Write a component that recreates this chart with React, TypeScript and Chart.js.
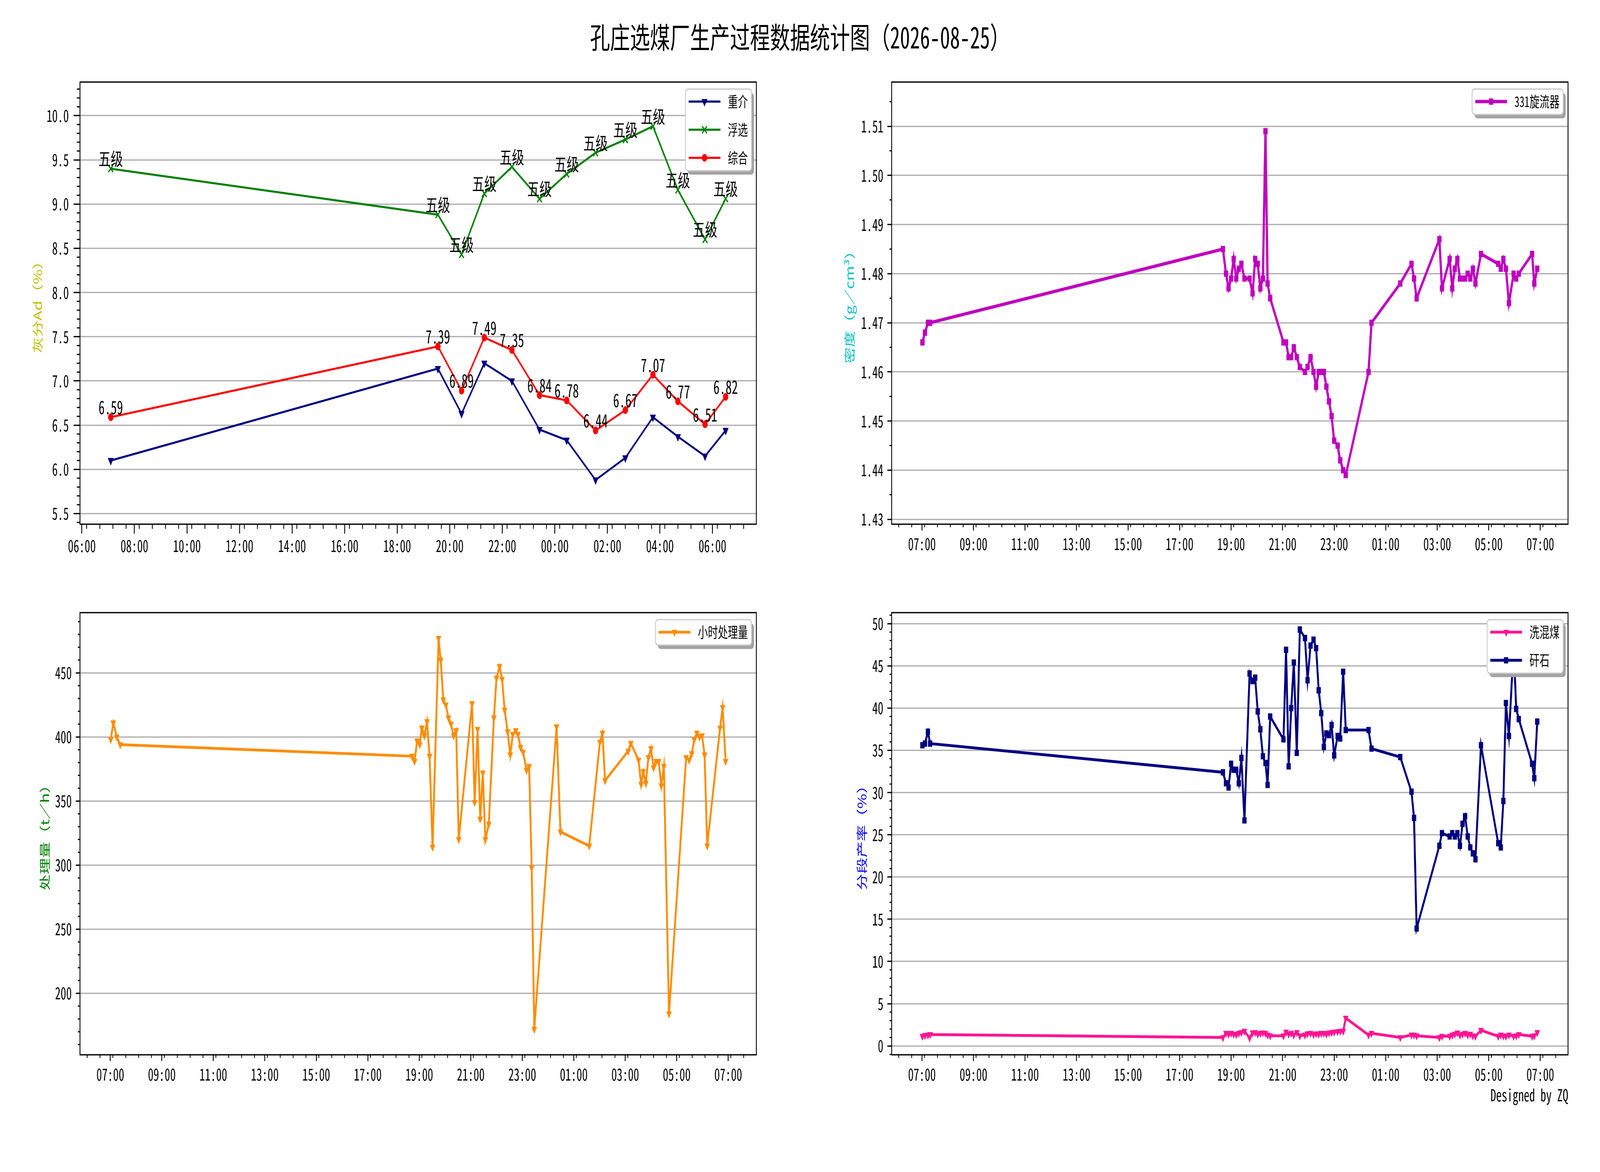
import { useEffect, useRef, useState } from 'react';
import Chart from 'chart.js/auto';
import { drawPoint } from 'chart.js/helpers';

const MONO = "'Noto Sans Mono CJK SC', 'Noto Sans CJK SC', sans-serif";
const SANS = "'Noto Sans CJK SC', sans-serif";

const FIG_W = 6000;
const FIG_H = 3000;

const TITLE = '孔庄选煤厂生产过程数据统计图（2026-08-25）';
const CREDIT = 'Designed by ZQ';

// ---- 灰分 (top left) ----
const ASH_TIMES = ['07:06', '19:33', '20:27', '21:19', '22:22', '23:25', '00:27', '01:33', '02:41', '03:44', '04:41', '05:43', '06:30'];
const ASH_DENSE = [6.1, 7.14, 6.63, 7.2, 7.0, 6.45, 6.33, 5.88, 6.13, 6.59, 6.37, 6.15, 6.44]; // 重介
const ASH_FLOAT = [9.4, 8.88, 8.43, 9.12, 9.42, 9.06, 9.34, 9.58, 9.73, 9.88, 9.16, 8.6, 9.06]; // 浮选
const ASH_TOTAL = [6.59, 7.39, 6.89, 7.49, 7.35, 6.84, 6.78, 6.44, 6.67, 7.07, 6.77, 6.51, 6.82]; // 综合
const ASH_FLOAT_GRADES = ['五级', '五级', '五级', '五级', '五级', '五级', '五级', '五级', '五级', '五级', '五级', '五级', '五级'];
const ASH_X_TICKS = ['06:00', '08:00', '10:00', '12:00', '14:00', '16:00', '18:00', '20:00', '22:00', '00:00', '02:00', '04:00', '06:00'];
const ASH_Y_TICKS = [5.5, 6.0, 6.5, 7.0, 7.5, 8.0, 8.5, 9.0, 9.5, 10.0];

// ---- 331旋流器密度 and 分段产率 share the same time stamps ----
const CYCLONE_TIMES = [
  '07:01', '07:07', '07:14', '07:19', '18:41', '18:48', '18:54', '19:00', '19:06', '19:12',
  '19:18', '19:24', '19:31', '19:43', '19:50', '19:56', '20:02', '20:08', '20:14', '20:20',
  '20:25', '20:31', '21:02', '21:08', '21:14', '21:20', '21:26', '21:33', '21:40', '21:52',
  '21:58', '22:05', '22:12', '22:18', '22:24', '22:30', '22:36', '22:42', '22:48', '22:54',
  '23:00', '23:08', '23:14', '23:21', '23:27', '00:20', '00:27', '01:34', '02:00', '02:06',
  '02:12', '03:05', '03:11', '03:29', '03:35', '03:41', '03:47', '03:53', '03:59', '04:05',
  '04:11', '04:17', '04:23', '04:29', '04:42', '05:22', '05:28', '05:34', '05:40', '05:47',
  '05:58', '06:04', '06:10', '06:41', '06:46', '06:53',
];
const CYCLONE_DENSITY = [
  1.466, 1.468, 1.47, 1.47, 1.485, 1.48, 1.477, 1.479, 1.483, 1.479,
  1.481, 1.482, 1.479, 1.479, 1.476, 1.483, 1.482, 1.477, 1.479, 1.509,
  1.478, 1.475, 1.466, 1.466, 1.463, 1.463, 1.465, 1.463, 1.461, 1.46,
  1.461, 1.463, 1.46, 1.457, 1.46, 1.46, 1.46, 1.457, 1.454, 1.451,
  1.446, 1.445, 1.442, 1.44, 1.439, 1.46, 1.47, 1.478, 1.482, 1.479,
  1.475, 1.487, 1.477, 1.483, 1.477, 1.481, 1.483, 1.479, 1.479, 1.479,
  1.48, 1.479, 1.481, 1.478, 1.484, 1.482, 1.481, 1.483, 1.481, 1.474,
  1.48, 1.479, 1.48, 1.484, 1.478, 1.481,
];
const MIDDLINGS_YIELD = [
  1.15, 1.25, 1.3, 1.35, 1.0, 1.5, 1.4, 1.5, 1.4, 1.35,
  1.5, 1.6, 1.75, 0.95, 1.55, 1.6, 1.4, 1.5, 1.55, 1.5,
  1.3, 1.2, 1.2, 1.65, 1.4, 1.5, 1.3, 1.6, 1.2, 1.3,
  1.45, 1.5, 1.35, 1.45, 1.4, 1.5, 1.5, 1.4, 1.55, 1.6,
  1.65, 1.7, 1.75, 1.75, 3.3, 1.3, 1.5, 1.0, 1.3, 1.3,
  1.2, 1.0, 1.15, 1.15, 1.3, 1.4, 1.55, 1.3, 1.4, 1.5,
  1.3, 1.4, 1.2, 1.15, 1.85, 1.15, 1.3, 1.2, 1.15, 1.3,
  1.15, 1.2, 1.35, 1.15, 1.2, 1.6,
]; // 洗混煤
const GANGUE_YIELD = [
  35.6, 35.8, 37.2, 35.8, 32.4, 31.1, 30.6, 33.4, 32.7, 32.7,
  31.1, 34.1, 26.7, 44.1, 43.2, 43.6, 39.6, 37.5, 34.3, 33.5,
  30.9, 39.0, 36.3, 46.9, 33.1, 40.0, 45.4, 34.7, 49.3, 48.3,
  43.3, 47.4, 48.1, 47.1, 42.1, 39.4, 35.4, 37.0, 36.8, 38.0,
  34.4, 36.7, 36.4, 44.3, 37.4, 37.4, 35.2, 34.2, 30.1, 27.0,
  13.9, 23.7, 25.2, 24.8, 25.2, 24.8, 25.2, 23.7, 26.3, 27.2,
  24.8, 23.5, 22.8, 22.1, 35.6, 24.0, 23.5, 29.0, 40.6, 36.7,
  47.3, 39.9, 38.7, 33.4, 31.7, 38.4,
]; // 矸石

// ---- 小时处理量 (bottom left) ----
const FEED_TIMES = [
  '07:01', '07:07', '07:15', '07:23', '18:43', '18:49', '18:55', '19:01', '19:06', '19:12',
  '19:18', '19:24', '19:31', '19:45', '19:50', '19:56', '20:02', '20:08', '20:14', '20:20',
  '20:26', '20:32', '21:03', '21:09', '21:16', '21:22', '21:28', '21:34', '21:42', '21:54',
  '22:00', '22:07', '22:13', '22:19', '22:26', '22:32', '22:38', '22:45', '22:50', '22:56',
  '23:02', '23:10', '23:16', '23:22', '23:28', '00:20', '00:29', '01:36', '02:01', '02:07',
  '02:13', '03:07', '03:13', '03:31', '03:37', '03:42', '03:48', '03:54', '04:00', '04:06',
  '04:12', '04:18', '04:24', '04:30', '04:42', '05:22', '05:29', '05:35', '05:41', '05:47',
  '05:53', '05:59', '06:05', '06:11', '06:41', '06:47', '06:54',
];
const FEED_RATE = [
  398, 411, 400, 394, 385, 381, 397, 394, 407, 401,
  412, 385, 314, 477, 460, 429, 425, 415, 410, 401,
  405, 320, 426, 349, 406, 336, 372, 320, 332, 415,
  446, 455, 445, 421, 404, 386, 402, 405, 402, 392,
  388, 374, 377, 298, 172, 408, 326, 315, 396, 403,
  366, 389, 395, 382, 363, 373, 364, 384, 391, 376,
  381, 381, 362, 377, 184, 384, 382, 387, 398, 403,
  400, 401, 386, 315, 407, 423, 381,
];

const SHIFT_X_TICKS = ['07:00', '09:00', '11:00', '13:00', '15:00', '17:00', '19:00', '21:00', '23:00', '01:00', '03:00', '05:00', '07:00'];
const DENSITY_Y_TICKS = [1.43, 1.44, 1.45, 1.46, 1.47, 1.48, 1.49, 1.5, 1.51];
const FEED_Y_TICKS = [200, 250, 300, 350, 400, 450];
const YIELD_Y_TICKS = [0, 5, 10, 15, 20, 25, 30, 35, 40, 45, 50];

function toHours(list: string[]): number[] {
  let day = 0;
  let prev = -Infinity;
  return list.map((s) => {
    const [h, m] = s.split(':').map(Number);
    let v = h + m / 60 + day * 24;
    if (v < prev) {
      day += 1;
      v += 24;
    }
    prev = v;
    return v;
  });
}

function clock(v: number): string {
  const m = ((Math.round(v * 60) % 1440) + 1440) % 1440;
  return `${String(Math.floor(m / 60)).padStart(2, '0')}:${String(m % 60).padStart(2, '0')}`;
}

type Series = {
  label: string;
  times: string[];
  values: number[];
  color: string;
  lineWidth: number;
  pointStyle: string;
  rotation: number;
  radius: number;
  borderWidth: number;
};

type PanelSpec = {
  canvas: { left: number; top: number; width: number; height: number };
  area: { left: number; top: number; right: number; bottom: number };
  series: Series[];
  xTicks: string[];
  yTicks: number[];
  yDecimals: number;
  yPad: number;
  yMinor: number;
  xMinorPhase: number;
  yTitle: string;
  yTitleColor: string;
  yTitleX: number;
  tickLen: number;
  minorLen: number;
  xLabelPad: number;
  yLabelPad: number;
  pointLabels?: { series: number; texts: string[] }[];
};

const TOP_ROW = { top: 210, bottom: 1341.8 };
const BOTTOM_ROW = { top: 1568.2, bottom: 2700 };
const LEFT_COL = { left: 300, right: 2836.4 };
const RIGHT_COL = { left: 3343.6, right: 5880 };

const PANELS: PanelSpec[] = [
  {
    canvas: { left: 0, top: 150, width: 3000, height: 1350 },
    area: { ...LEFT_COL, ...TOP_ROW },
    series: [
      { label: '重介', times: ASH_TIMES, values: ASH_DENSE, color: '#000080', lineWidth: 5.3, pointStyle: 'triangle', rotation: 180, radius: 11, borderWidth: 2 },
      { label: '浮选', times: ASH_TIMES, values: ASH_FLOAT, color: '#008000', lineWidth: 5.3, pointStyle: 'crossRot', rotation: 0, radius: 12.5, borderWidth: 4 },
      { label: '综合', times: ASH_TIMES, values: ASH_TOTAL, color: '#ff0000', lineWidth: 5.3, pointStyle: 'circle', rotation: 0, radius: 9, borderWidth: 2 },
    ],
    xTicks: ASH_X_TICKS,
    yTicks: ASH_Y_TICKS,
    yDecimals: 1,
    yPad: 0.5,
    yMinor: 0.1,
    xMinorPhase: 11 / 60,
    yTitle: '灰分Ad（%）',
    yTitleColor: '#bfbf00',
    yTitleX: 141,
    tickLen: 24,
    minorLen: 12,
    xLabelPad: 6,
    yLabelPad: 18,
    pointLabels: [
      { series: 1, texts: ASH_FLOAT_GRADES },
      { series: 2, texts: ASH_TOTAL.map((v) => v.toFixed(2)) },
    ],
  },
  {
    canvas: { left: 3000, top: 150, width: 3000, height: 1350 },
    area: { ...RIGHT_COL, ...TOP_ROW },
    series: [
      { label: '331旋流器', times: CYCLONE_TIMES, values: CYCLONE_DENSITY, color: '#bf00bf', lineWidth: 8.3, pointStyle: 'rect', rotation: 0, radius: 10, borderWidth: 2 },
    ],
    xTicks: SHIFT_X_TICKS,
    yTicks: DENSITY_Y_TICKS,
    yDecimals: 2,
    yPad: 0.01,
    yMinor: 0.005,
    xMinorPhase: 6 / 60,
    yTitle: '密度（g／cm³）',
    yTitleColor: '#00bfbf',
    yTitleX: 3186,
    tickLen: 16,
    minorLen: 8,
    xLabelPad: 9,
    yLabelPad: 15,
  },
  {
    canvas: { left: 0, top: 1500, width: 3000, height: 1500 },
    area: { ...LEFT_COL, ...BOTTOM_ROW },
    series: [
      { label: '小时处理量', times: FEED_TIMES, values: FEED_RATE, color: '#ff8c00', lineWidth: 7, pointStyle: 'triangle', rotation: 180, radius: 10, borderWidth: 2 },
    ],
    xTicks: SHIFT_X_TICKS,
    yTicks: FEED_Y_TICKS,
    yDecimals: 0,
    yPad: 20,
    yMinor: 10,
    xMinorPhase: 6 / 60,
    yTitle: '处理量（t／h）',
    yTitleColor: '#008000',
    yTitleX: 168,
    tickLen: 16,
    minorLen: 8,
    xLabelPad: 9,
    yLabelPad: 15,
  },
  {
    canvas: { left: 3000, top: 1500, width: 3000, height: 1500 },
    area: { ...RIGHT_COL, ...BOTTOM_ROW },
    series: [
      { label: '洗混煤', times: CYCLONE_TIMES, values: MIDDLINGS_YIELD, color: '#ff1493', lineWidth: 7.3, pointStyle: 'triangle', rotation: 180, radius: 10, borderWidth: 2 },
      { label: '矸石', times: CYCLONE_TIMES, values: GANGUE_YIELD, color: '#000080', lineWidth: 7.3, pointStyle: 'rect', rotation: 0, radius: 10, borderWidth: 2 },
    ],
    xTicks: SHIFT_X_TICKS,
    yTicks: YIELD_Y_TICKS,
    yDecimals: 0,
    yPad: 2,
    yMinor: 1,
    xMinorPhase: 6 / 60,
    yTitle: '分段产率（%）',
    yTitleColor: '#0000ff',
    yTitleX: 3232,
    tickLen: 16,
    minorLen: 8,
    xLabelPad: 9,
    yLabelPad: 15,
  },
];

function Panel({ spec }: { spec: PanelSpec }) {
  const canvasRef = useRef<HTMLCanvasElement | null>(null);
  const box = spec.canvas;

  useEffect(() => {
    if (!canvasRef.current) return;
    const area = spec.area;
    const padLeft = 40;
    const xAxisHeight = 100;
    const yAxisWidth = area.left - box.left - padLeft;
    const padBottom = box.top + box.height - area.bottom - xAxisHeight;
    const tickFont = { family: MONO, size: 41.67 };
    const titleSize = 41.67;

    const hours = spec.series.map((s) => toHours(s.times));
    const allX = hours.flat();
    const allY = spec.series.flatMap((s) => s.values);
    const x0 = Math.min(...allX);
    const x1 = Math.max(...allX);
    const xMargin = (x1 - x0) * 0.05;
    const xTickValues = toHours(spec.xTicks);

    const decor = {
      id: 'decor',
      afterDraw(chart: any) {
        const ctx = chart.ctx as CanvasRenderingContext2D;
        const ca = chart.chartArea;
        const xs = chart.scales.x;
        const ys = chart.scales.y;
        ctx.save();

        // frame
        ctx.strokeStyle = '#000';
        ctx.lineWidth = 3.3;
        ctx.strokeRect(ca.left, ca.top, ca.right - ca.left, ca.bottom - ca.top);

        // minor ticks
        ctx.lineWidth = 3;
        ctx.beginPath();
        const step = 0.5;
        for (let v = Math.ceil((xs.min - spec.xMinorPhase) / step) * step + spec.xMinorPhase; v <= xs.max; v += step) {
          const px = xs.getPixelForValue(v);
          ctx.moveTo(px, ca.bottom);
          ctx.lineTo(px, ca.bottom + spec.minorLen);
        }
        const ms = spec.yMinor;
        for (let k = Math.ceil(ys.min / ms - 1e-9); k * ms <= ys.max + 1e-9; k++) {
          const v = k * ms;
          if (spec.yTicks.some((t) => Math.abs(t - v) < ms * 0.01)) continue;
          const py = ys.getPixelForValue(v);
          ctx.moveTo(ca.left - spec.minorLen, py);
          ctx.lineTo(ca.left, py);
        }
        ctx.stroke();

        // point labels
        (spec.pointLabels || []).forEach((pl) => {
          const meta = chart.getDatasetMeta(pl.series);
          ctx.font = `45.8px ${MONO}`;
          ctx.fillStyle = '#000';
          ctx.textAlign = 'center';
          ctx.textBaseline = 'bottom';
          meta.data.forEach((el: any, j: number) => {
            ctx.fillText(pl.texts[j], el.x, el.y - 2);
          });
        });

        // legend
        const fs = 37.5;
        ctx.font = `${fs}px ${MONO}`;
        const textW = Math.max(...spec.series.map((s) => ctx.measureText(s.label).width));
        const handle = 119;
        const boxW = 12 + handle + 28 + textW + 14;
        const boxH = spec.series.length * 72 - 7;
        const bx = ca.right - 18 - boxW;
        const by = ca.top + 18;
        ctx.fillStyle = '#a3a3a3';
        ctx.beginPath();
        ctx.roundRect(bx + 9, by + 10, boxW, boxH, 10);
        ctx.fill();
        ctx.fillStyle = '#ffffff';
        ctx.strokeStyle = '#cccccc';
        ctx.lineWidth = 3.3;
        ctx.beginPath();
        ctx.roundRect(bx, by, boxW, boxH, 10);
        ctx.fill();
        ctx.stroke();
        spec.series.forEach((s, i) => {
          const cy = by + 32 + i * 72;
          const hx = bx + 12;
          ctx.strokeStyle = s.color;
          ctx.lineWidth = s.lineWidth;
          ctx.beginPath();
          ctx.moveTo(hx, cy);
          ctx.lineTo(hx + handle, cy);
          ctx.stroke();
          ctx.fillStyle = s.color;
          ctx.lineWidth = s.borderWidth;
          drawPoint(ctx, { pointStyle: s.pointStyle as any, rotation: s.rotation, radius: s.radius, borderWidth: s.borderWidth }, hx + handle / 2, cy);
          ctx.fillStyle = '#000';
          ctx.textAlign = 'left';
          ctx.textBaseline = 'middle';
          ctx.fillText(s.label, hx + handle + 28, cy);
        });
        ctx.restore();
      },
    };

    const chart = new Chart(canvasRef.current, {
      type: 'line',
      data: {
        datasets: spec.series.map((s, i) => ({
          label: s.label,
          data: hours[i].map((x, j) => ({ x, y: s.values[j] })),
          borderColor: s.color,
          backgroundColor: s.color,
          borderWidth: s.lineWidth,
          pointStyle: s.pointStyle as any,
          pointRotation: s.rotation,
          pointRadius: s.radius,
          pointBorderWidth: s.borderWidth,
          pointBackgroundColor: s.color,
          pointBorderColor: s.color,
          tension: 0,
          fill: false,
        })),
      },
      options: {
        animation: false,
        responsive: false,
        devicePixelRatio: 1,
        events: [],
        layout: {
          padding: {
            left: padLeft,
            top: area.top - box.top,
            right: box.left + box.width - area.right,
            bottom: padBottom,
          },
        },
        plugins: { legend: { display: false }, tooltip: { enabled: false } },
        scales: {
          x: {
            type: 'linear',
            bounds: 'data',
            min: x0 - xMargin,
            max: x1 + xMargin,
            afterBuildTicks: (s: any) => {
              s.ticks = xTickValues.map((value) => ({ value }));
            },
            afterFit: (s: any) => {
              s.height = xAxisHeight;
            },
            border: { display: false },
            grid: {
              drawOnChartArea: false,
              drawTicks: true,
              tickLength: spec.tickLen,
              tickWidth: 3.3,
              tickColor: '#000',
              color: '#000',
            },
            ticks: {
              autoSkip: false,
              maxRotation: 0,
              minRotation: 0,
              padding: spec.xLabelPad,
              color: '#000',
              font: tickFont,
              callback: (v: any) => clock(Number(v)),
            },
          },
          y: {
            type: 'linear',
            bounds: 'data',
            min: Math.min(...allY) - spec.yPad,
            max: Math.max(...allY) + spec.yPad,
            afterBuildTicks: (s: any) => {
              s.ticks = spec.yTicks.map((value) => ({ value }));
            },
            afterFit: (s: any) => {
              s.width = yAxisWidth;
            },
            border: { display: false },
            grid: {
              drawOnChartArea: true,
              drawTicks: true,
              tickLength: spec.tickLen,
              tickWidth: 3.3,
              tickColor: '#000',
              color: '#b0b0b0',
              lineWidth: 3.3,
            },
            ticks: {
              autoSkip: false,
              padding: spec.yLabelPad,
              color: '#000',
              font: tickFont,
              callback: (v: any) => Number(v).toFixed(spec.yDecimals),
            },
            title: {
              display: true,
              text: spec.yTitle,
              color: spec.yTitleColor,
              font: { family: SANS, size: titleSize },
              padding: { top: spec.yTitleX - box.left - padLeft - titleSize * 0.6, bottom: 0 },
            },
          },
        },
      },
      plugins: [decor],
    });

    return () => {
      chart.destroy();
    };
  }, [spec]);

  return (
    <canvas
      ref={canvasRef}
      width={box.width}
      height={box.height}
      style={{ position: 'absolute', left: box.left, top: box.top, width: box.width, height: box.height }}
    />
  );
}

export default function App() {
  // the browser may give a narrower viewport than the 6000×3000 figure; fit the figure to it
  const [view, setView] = useState({ w: window.innerWidth || FIG_W, h: window.innerHeight || FIG_H });
  useEffect(() => {
    const onResize = () => setView({ w: window.innerWidth || FIG_W, h: window.innerHeight || FIG_H });
    window.addEventListener('resize', onResize);
    return () => window.removeEventListener('resize', onResize);
  }, []);
  const sx = view.w / FIG_W;
  const sy = view.h / FIG_H;

  return (
    <div style={{ position: 'relative', margin: -8, width: view.w, height: view.h, overflow: 'hidden', background: '#fff' }}>
      <div
        style={{
          position: 'absolute',
          left: 0,
          top: 0,
          width: FIG_W,
          height: FIG_H,
          background: '#fff',
          transform: `scale(${sx}, ${sy})`,
          transformOrigin: '0 0',
        }}
      >
        <div
          style={{
            position: 'absolute',
            left: 0,
            top: 54,
            width: FIG_W,
            textAlign: 'center',
            font: `75px/75px ${MONO}`,
            color: '#000',
            whiteSpace: 'nowrap',
          }}
        >
          {TITLE}
        </div>
        {PANELS.map((p, i) => (
          <Panel key={i} spec={p} />
        ))}
        <div
          style={{
            position: 'absolute',
            right: 119,
            top: 2781,
            font: `41.67px/41.67px ${MONO}`,
            color: '#000',
            whiteSpace: 'nowrap',
          }}
        >
          {CREDIT}
        </div>
      </div>
    </div>
  );
}
